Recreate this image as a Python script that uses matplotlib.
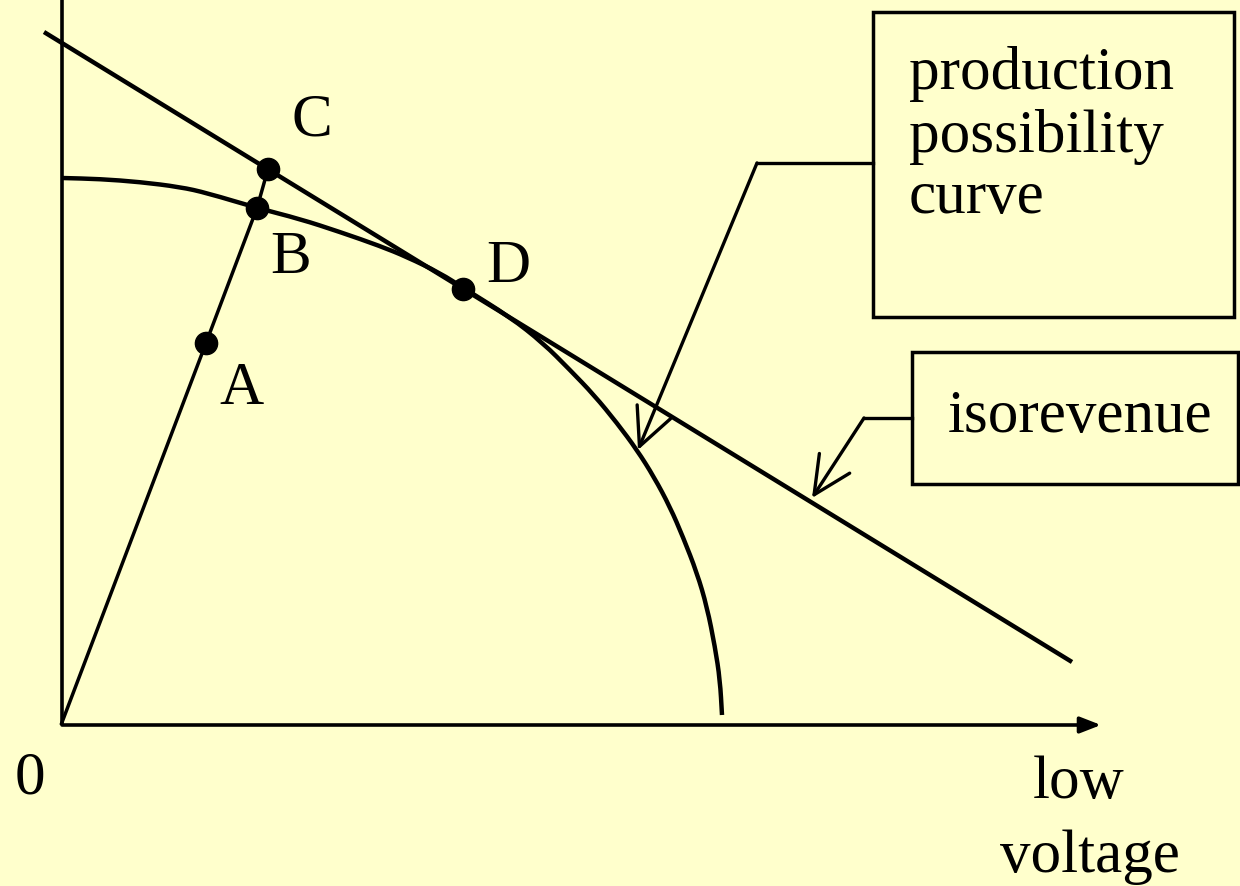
import matplotlib
matplotlib.use("Agg")
import matplotlib.pyplot as plt
from matplotlib.patches import FancyArrowPatch, Rectangle, PathPatch
from matplotlib.path import Path

plt.rcParams['font.family'] = ['Liberation Serif', 'DejaVu Serif']

# everything is in picture pixel coordinates (y grows downwards)
W, H = 1240, 886
bg = '#FFFFCC'

# production possibility curve
ppc_x = [62, 100, 140, 180, 207, 257, 300, 340, 380, 407, 440, 465, 510, 543, 570,
         594, 617, 637, 654, 670, 683, 697, 707, 715, 720, 722]
ppc_y = [178, 179, 182, 187, 193, 208, 219, 232, 246, 257, 273, 289, 317, 343, 370,
         395, 423, 450, 477, 507, 537, 573, 607, 647, 680, 715]

# isorevenue line ends
iso_x = [44, 1072]
iso_y = [32, 662]

# ray from origin through A, B to C
ray_x = [61, 206, 257, 268]
ray_y = [725, 343, 208, 169]

# marked points
pt_names = ['A', 'B', 'C', 'D']
pt_x = [206, 257, 268, 463]
pt_y = [343, 208, 169, 289]
lab_x = [219, 270, 292, 486]
lab_y = [404, 273, 135, 282]

origin = (62, 725)
x_axis_end = 1101


def smooth_path(xs, ys):
    # corners rounded off with quadratic beziers through the midpoints
    verts = [(xs[0], ys[0])]
    codes = [Path.MOVETO]
    mids = [((xs[i] + xs[i + 1]) / 2, (ys[i] + ys[i + 1]) / 2) for i in range(len(xs) - 1)]
    verts.append(mids[0])
    codes.append(Path.LINETO)
    for i in range(1, len(xs) - 1):
        verts += [(xs[i], ys[i]), mids[i]]
        codes += [Path.CURVE3, Path.CURVE3]
    verts.append((xs[-1], ys[-1]))
    codes.append(Path.LINETO)
    return Path(verts, codes)


fig = plt.figure(figsize=(12.4, 8.86), dpi=100)
fig.patch.set_facecolor(bg)
ax = fig.add_axes([0, 0, 1, 1])
ax.set_facecolor(bg)
ax.set_xlim(0, W)
ax.set_ylim(H, 0)
ax.axis('off')

# axes
ax.plot([origin[0], origin[0]], [0, origin[1]], color='black', lw=2.6, solid_capstyle='butt')
ax.annotate('', xy=(x_axis_end, origin[1]), xytext=(origin[0], origin[1]),
            arrowprops=dict(arrowstyle='-|>,head_length=0.9,head_width=0.35',
                            mutation_scale=14, color='black', lw=2.6,
                            shrinkA=0, shrinkB=0))

# curves
ax.add_patch(PathPatch(smooth_path(ppc_x, ppc_y), fill=False, ec='black', lw=3.2,
                       capstyle='butt'))
ax.plot(iso_x, iso_y, color='black', lw=3.2, solid_capstyle='butt')
ax.plot(ray_x, ray_y, color='black', lw=2.5, solid_capstyle='butt')

ax.plot(pt_x, pt_y, 'o', color='black', ms=16, zorder=5)
for n, lx, ly in zip(pt_names, lab_x, lab_y):
    ax.text(lx, ly, n, fontsize=44, ha='left', va='baseline')

ax.text(15, 793, '0', fontsize=44, ha='left', va='baseline')
ax.text(1033, 798, 'low', fontsize=44, ha='left', va='baseline')
ax.text(1000, 872, 'voltage', fontsize=44, ha='left', va='baseline')

# label boxes
ax.add_patch(Rectangle((873, 12), 361, 305, fill=False, ec='black', lw=2.5))
ax.add_patch(Rectangle((912, 352), 326, 132, fill=False, ec='black', lw=2.5))

for line, base in zip(['production', 'possibility', 'curve'], [89, 152, 213]):
    ax.text(909, base, line, fontsize=44, ha='left', va='baseline')
ax.text(948, 432, 'isorevenue', fontsize=44, ha='left', va='baseline')

# pointers from the boxes
style = '->,head_length=27,head_width=13'
ax.plot([873, 757], [163, 163], color='black', lw=2.4)
ax.add_patch(FancyArrowPatch((757, 163), (638, 450), arrowstyle=style,
                             mutation_scale=1, color='black', lw=2.4,
                             shrinkA=0, shrinkB=0))
ax.plot([912, 864], [418, 418], color='black', lw=2.4)
ax.add_patch(FancyArrowPatch((864, 418), (812, 498), arrowstyle=style,
                             mutation_scale=1, color='black', lw=2.4,
                             shrinkA=0, shrinkB=0))

fig.savefig('out.png', dpi=100, facecolor=bg)
